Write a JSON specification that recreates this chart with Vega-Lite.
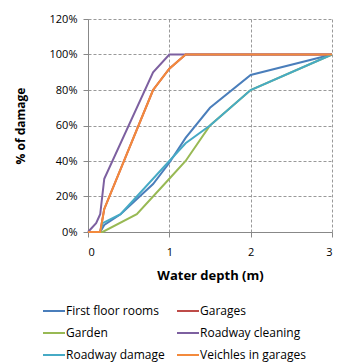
{
  "$schema": "https://vega.github.io/schema/vega-lite/v6.json",
  "width": 244,
  "height": 213,
  "autosize": "none",
  "padding": {"left": 88, "top": 19, "right": 7, "bottom": 130},
  "background": "white",
  "config": {
    "view": {"stroke": null},
    "font": "Open Sans",
    "axis": {"labelFont": "Open Sans", "titleFont": "Open Sans", "labelColor": "#000", "titleColor": "#000"}
  },
  "data": {
    "values": [
      {"series": "First floor rooms", "depth": 0, "damage": 0},
      {"series": "First floor rooms", "depth": 0.15, "damage": 0},
      {"series": "First floor rooms", "depth": 0.2, "damage": 0.04},
      {"series": "First floor rooms", "depth": 0.4, "damage": 0.1},
      {"series": "First floor rooms", "depth": 0.8, "damage": 0.27},
      {"series": "First floor rooms", "depth": 1.0, "damage": 0.39},
      {"series": "First floor rooms", "depth": 1.2, "damage": 0.53},
      {"series": "First floor rooms", "depth": 1.5, "damage": 0.7},
      {"series": "First floor rooms", "depth": 2.0, "damage": 0.885},
      {"series": "First floor rooms", "depth": 3.0, "damage": 1.0},
      {"series": "Garages", "depth": 0, "damage": 0},
      {"series": "Garages", "depth": 0.15, "damage": 0},
      {"series": "Garages", "depth": 0.2, "damage": 0.13},
      {"series": "Garages", "depth": 0.8, "damage": 0.8},
      {"series": "Garages", "depth": 1.0, "damage": 0.92},
      {"series": "Garages", "depth": 1.2, "damage": 1.0},
      {"series": "Garages", "depth": 3.0, "damage": 1.0},
      {"series": "Garden", "depth": 0, "damage": 0},
      {"series": "Garden", "depth": 0.18, "damage": 0},
      {"series": "Garden", "depth": 0.6, "damage": 0.1},
      {"series": "Garden", "depth": 1.0, "damage": 0.3},
      {"series": "Garden", "depth": 1.2, "damage": 0.4},
      {"series": "Garden", "depth": 1.5, "damage": 0.6},
      {"series": "Garden", "depth": 2.0, "damage": 0.8},
      {"series": "Garden", "depth": 3.0, "damage": 1.0},
      {"series": "Roadway cleaning", "depth": 0, "damage": 0},
      {"series": "Roadway cleaning", "depth": 0.1, "damage": 0.05},
      {"series": "Roadway cleaning", "depth": 0.15, "damage": 0.1},
      {"series": "Roadway cleaning", "depth": 0.2, "damage": 0.3},
      {"series": "Roadway cleaning", "depth": 0.8, "damage": 0.9},
      {"series": "Roadway cleaning", "depth": 1.0, "damage": 1.0},
      {"series": "Roadway cleaning", "depth": 3.0, "damage": 1.0},
      {"series": "Roadway damage", "depth": 0, "damage": 0},
      {"series": "Roadway damage", "depth": 0.15, "damage": 0},
      {"series": "Roadway damage", "depth": 0.18, "damage": 0.05},
      {"series": "Roadway damage", "depth": 0.4, "damage": 0.1},
      {"series": "Roadway damage", "depth": 1.0, "damage": 0.4},
      {"series": "Roadway damage", "depth": 1.2, "damage": 0.5},
      {"series": "Roadway damage", "depth": 1.5, "damage": 0.6},
      {"series": "Roadway damage", "depth": 2.0, "damage": 0.8},
      {"series": "Roadway damage", "depth": 3.0, "damage": 1.0},
      {"series": "Veichles in garages", "depth": 0, "damage": 0},
      {"series": "Veichles in garages", "depth": 0.15, "damage": 0},
      {"series": "Veichles in garages", "depth": 0.2, "damage": 0.13},
      {"series": "Veichles in garages", "depth": 0.8, "damage": 0.8},
      {"series": "Veichles in garages", "depth": 1.0, "damage": 0.92},
      {"series": "Veichles in garages", "depth": 1.2, "damage": 1.0},
      {"series": "Veichles in garages", "depth": 3.0, "damage": 1.0}
    ]
  },
  "mark": {"type": "line", "strokeWidth": 2},
  "encoding": {
    "x": {
      "field": "depth", "type": "quantitative",
      "scale": {"domain": [0, 3], "nice": false},
      "axis": {
        "values": [0, 1, 2, 3], "title": "Water depth (m)",
        "titleFontWeight": "bold", "titleFontSize": 13, "titlePadding": 12,
        "labelFontSize": 11, "labelPadding": 9,
        "domainColor": "#888", "tickColor": "#888", "tickSize": 5,
        "gridColor": "#999", "gridDash": [3, 2], "gridWidth": 1
      }
    },
    "y": {
      "field": "damage", "type": "quantitative",
      "scale": {"domain": [0, 1.2], "nice": false},
      "axis": {
        "values": [0, 0.2, 0.4, 0.6, 0.8, 1.0, 1.2], "format": ".0%",
        "title": "% of damage", "titleFontWeight": "bold", "titleFontSize": 12, "titlePadding": 22,
        "labelFontSize": 11, "labelPadding": 6,
        "domainColor": "#888", "tickColor": "#888", "tickSize": 5,
        "gridColor": "#999", "gridDash": [3, 2], "gridWidth": 1
      }
    },
    "color": {
      "field": "series", "type": "nominal",
      "scale": {
        "domain": ["First floor rooms", "Garages", "Garden", "Roadway cleaning", "Roadway damage", "Veichles in garages"],
        "range": ["#4A7EBB", "#BE4B48", "#98B954", "#7D60A0", "#46AAC5", "#F38A3C"]
      },
      "legend": {
        "orient": "none", "legendX": -46, "legendY": 280,
        "title": null, "columns": 2, "direction": "horizontal",
        "symbolType": "stroke", "symbolSize": 484, "symbolStrokeWidth": 2,
        "labelFontSize": 12, "labelFont": "Open Sans", "labelColor": "#000",
        "labelOffset": 0, "columnPadding": 8, "rowPadding": 4,
        "labelLimit": 200
      }
    },
    "order": {"field": "series"}
  }
}
